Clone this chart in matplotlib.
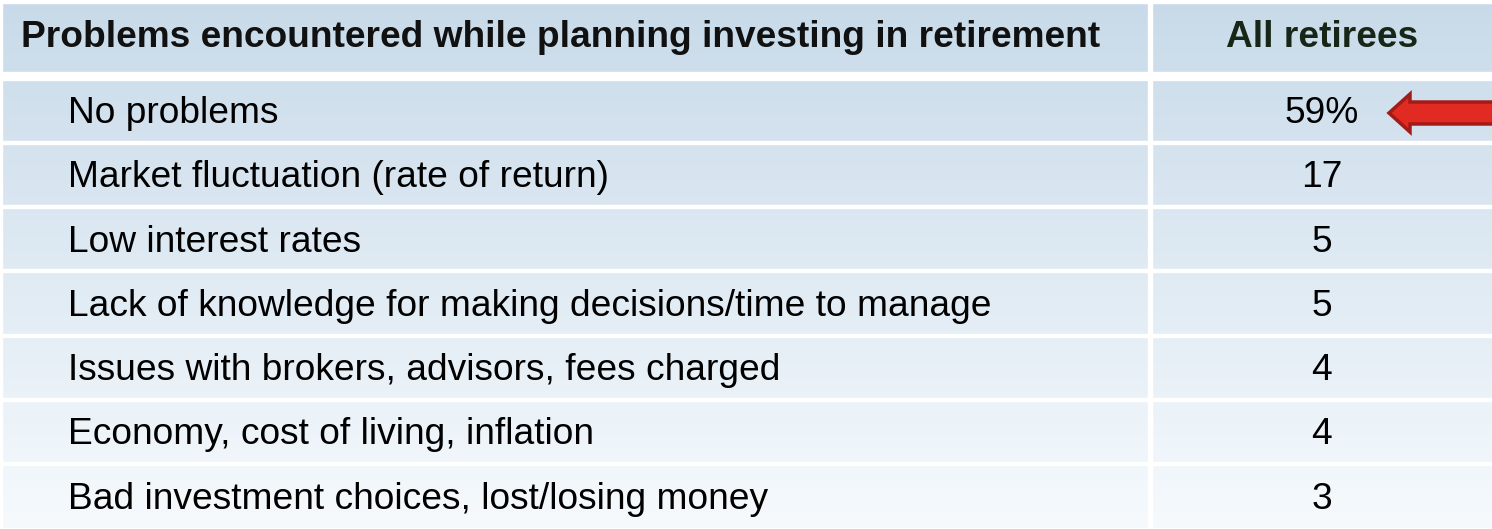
import numpy as np
import matplotlib
matplotlib.use("Agg")
import matplotlib.pyplot as plt
from matplotlib.patches import FancyArrow

plt.rcParams['font.family'] = ['Liberation Sans', 'DejaVu Sans']

header_label = "Problems encountered while planning investing in retirement"
header_value = "All retirees"
problems = [
    "No problems",
    "Market fluctuation (rate of return)",
    "Low interest rates",
    "Lack of knowledge for making decisions/time to manage",
    "Issues with brokers, advisors, fees charged",
    "Economy, cost of living, inflation",
    "Bad investment choices, lost/losing money",
]
shares = [59, 17, 5, 5, 4, 4, 3]

W, H = 1492, 529
fig = plt.figure(figsize=(W / 100, H / 100), dpi=100)
ax = fig.add_axes([0, 0, 1, 1])
ax.set_xlim(0, W)
ax.set_ylim(H, 0)
ax.axis('off')

# vertical blue gradient behind the whole table
top_rgb = np.array([0xc8, 0xda, 0xe9]) / 255
bot_rgb = np.array([0xf6, 0xfa, 0xfd]) / 255
t = np.linspace(0, 1, 256)[:, None]
grad = (top_rgb * (1 - t) + bot_rgb * t)[:, None, :]
ax.imshow(grad, extent=[0, W, H, 0], aspect='auto', zorder=0)

# white cell borders
header_top, header_bot = 3, 72
body_top, row_h = 80, 64.3
col_x = 1150
ax.axhspan(0, header_top, color='white', zorder=1)
ax.axhspan(header_bot, body_top, color='white', zorder=1)
for i in range(1, len(problems)):
    y = body_top + i * row_h - 2
    ax.axhspan(y - 1.5, y + 1.5, color='white', zorder=1)
ax.axhspan(H - 1.5, H, color='white', zorder=1)
ax.axvspan(0, 2, color='white', zorder=1)
ax.axvspan(col_x - 2, col_x + 2, color='white', zorder=1)

fs = 26.7

# header
ax.text(21, 47, header_label, fontsize=fs, fontweight='bold',
        color='#111111', va='baseline', ha='left', zorder=3)
ax.text(1322, 47, header_value, fontsize=fs, fontweight='bold',
        color='#172617', va='baseline', ha='center', zorder=3)

# body rows
for i, (label, val) in enumerate(zip(problems, shares)):
    y = body_top + i * row_h + 43
    txt = f"{val}%" if i == 0 else str(val)
    ax.text(68, y, label, fontsize=fs, color='black',
            va='baseline', ha='left', zorder=3)
    ax.text(1322, y, txt, fontsize=fs, color='black',
            va='baseline', ha='center', zorder=3)

# red arrow pointing at the first value
ay = 113
ax.add_patch(FancyArrow(1510, ay, -121, 0, width=22, head_width=38,
                        head_length=21, length_includes_head=True,
                        facecolor='#e12a22', edgecolor='#a21b18',
                        linewidth=2.5, zorder=4))

fig.savefig("out.png", dpi=100)
